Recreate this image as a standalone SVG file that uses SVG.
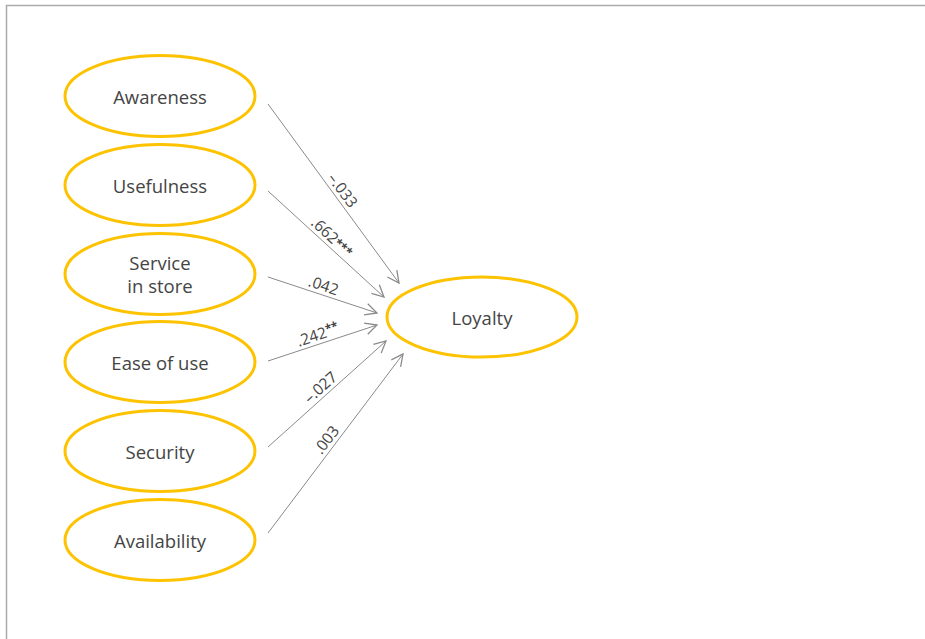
<svg xmlns="http://www.w3.org/2000/svg" width="925" height="639" viewBox="0 0 925 639">
  <style>
    .frame { fill: none; stroke: #aaaaaa; stroke-width: 1.5; }
    .node ellipse { fill: #ffffff; stroke: #fdc300; stroke-width: 3; }
    .node text { font-family: "Open Sans", "Liberation Sans", sans-serif; font-size: 18.5px; fill: #444444; text-anchor: middle; }
    .edge line { stroke: #8a8a8a; stroke-width: 1; fill: none; marker-end: url(#head); }
    .edge text { font-family: "Open Sans", "Liberation Sans", sans-serif; font-size: 15.5px; fill: #444444; text-anchor: middle; }
    .sig { font-size: 12px; font-weight: bold; }
  </style>
  <defs>
    <marker id="head" markerUnits="userSpaceOnUse" markerWidth="14" markerHeight="14" viewBox="0 0 12 12" refX="11" refY="6" orient="auto">
      <path d="M1,1 L11,6 L1,11" fill="none" stroke="#8a8a8a" stroke-width="1.1"/>
    </marker>
  </defs>

  <rect width="925" height="639" fill="#ffffff"/>
  <path class="frame" d="M6.5,639 V5.5 H925"/>

  <!-- predictor constructs -->
  <g id="awareness" class="node">
    <ellipse cx="160" cy="96" rx="95" ry="40.5"/>
    <text x="160" y="104">Awareness</text>
  </g>
  <g id="usefulness" class="node">
    <ellipse cx="160" cy="185" rx="95" ry="40.5"/>
    <text x="160" y="193">Usefulness</text>
  </g>
  <g id="service-in-store" class="node">
    <ellipse cx="160" cy="274" rx="95" ry="40.5"/>
    <text x="160" y="270">Service</text>
    <text x="160" y="293">in store</text>
  </g>
  <g id="ease-of-use" class="node">
    <ellipse cx="160" cy="362" rx="95" ry="40.5"/>
    <text x="160" y="370">Ease of use</text>
  </g>
  <g id="security" class="node">
    <ellipse cx="160" cy="451" rx="95" ry="40.5"/>
    <text x="160" y="459">Security</text>
  </g>
  <g id="availability" class="node">
    <ellipse cx="160" cy="540" rx="95" ry="40.5"/>
    <text x="160" y="548">Availability</text>
  </g>

  <!-- outcome construct -->
  <g id="loyalty" class="node">
    <ellipse cx="482" cy="317" rx="95" ry="40"/>
    <text x="482" y="325">Loyalty</text>
  </g>

  <!-- path coefficients -->
  <g id="connectors" class="edge">
    <line x1="268" y1="104" x2="399" y2="283"/>
    <line x1="268" y1="191" x2="384" y2="297"/>
    <line x1="268" y1="277" x2="377" y2="313"/>
    <line x1="268" y1="361" x2="377" y2="325"/>
    <line x1="268" y1="447" x2="386" y2="341"/>
    <line x1="268" y1="533" x2="403" y2="354"/>

    <text transform="translate(335.1,195.8) rotate(53.8)" y="-4">–.033</text>
    <text transform="translate(325.8,243.9) rotate(42.4)" y="-4">.662<tspan class="sig" dy="-1">***</tspan></text>
    <text transform="translate(320.6,294.4) rotate(18.3)" y="-4">.042</text>
    <text transform="translate(320.8,343.6) rotate(-18.3)" y="-4">.242<tspan class="sig" dy="-4">**</tspan></text>
    <text transform="translate(326.6,394.4) rotate(-41.9)" y="-4">–.027</text>
    <text transform="translate(334,445.5) rotate(-53)" y="-4">.003</text>
  </g>
</svg>
